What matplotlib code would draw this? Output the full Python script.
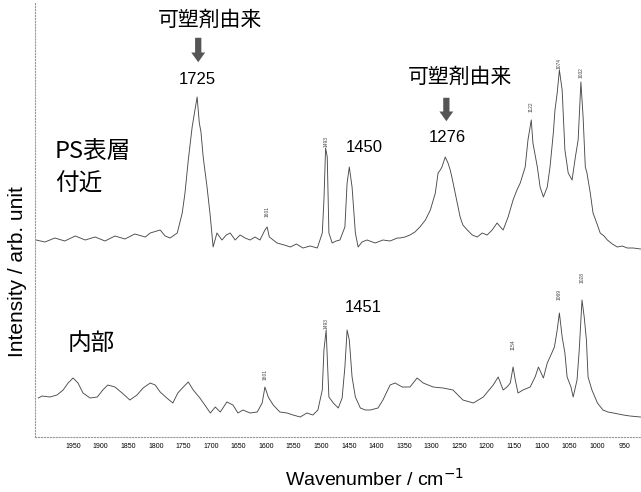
import matplotlib
matplotlib.use("Agg")
import matplotlib.pyplot as plt
import numpy as np

# upper spectrum: near the PS surface
upper_wn = [2017, 2001, 1983, 1965, 1946, 1928, 1910, 1892, 1874, 1856, 1838, 1819, 1810,
            1792, 1783, 1774, 1761, 1752, 1747, 1741, 1734, 1729, 1725, 1721, 1718, 1714,
            1707, 1701, 1696, 1689, 1680, 1672, 1665, 1656, 1647, 1638, 1629, 1620, 1611,
            1602, 1598, 1594, 1580, 1567, 1556, 1545, 1533, 1520, 1507, 1498, 1495, 1492,
            1489, 1486, 1480, 1473, 1466, 1457, 1453, 1449, 1444, 1438, 1433, 1426, 1417,
            1402, 1388, 1375, 1362, 1357, 1348, 1339, 1330, 1321, 1311, 1302, 1293, 1288,
            1284, 1281, 1275, 1270, 1266, 1263, 1257, 1248, 1243, 1235, 1226, 1217, 1208,
            1199, 1190, 1181, 1175, 1170, 1161, 1152, 1145, 1139, 1130, 1125, 1119, 1116,
            1108, 1103, 1097, 1090, 1085, 1079, 1076, 1072, 1068, 1063, 1058, 1052, 1045,
            1039, 1034, 1029, 1025, 1021, 1018, 1012, 1007, 999, 994, 987, 981, 972, 963,
            954, 945, 934, 921]
upper_int = [197, 195, 199, 196, 201, 197, 200, 196, 201, 198, 203, 200, 204,
             207, 201, 199, 204, 224, 244, 277, 310, 327, 340, 314, 305, 280,
             250, 220, 190, 204, 197, 202, 204, 197, 202, 199, 197, 200, 197,
             207, 210, 200, 194, 192, 190, 193, 189, 191, 189, 204, 237, 289,
             280, 204, 194, 196, 197, 210, 254, 270, 250, 204, 190, 195, 197,
             194, 197, 196, 199, 199, 200, 202, 205, 210, 217, 227, 244, 264,
             267, 270, 280, 274, 267, 260, 244, 220, 212, 207, 202, 200, 204,
             202, 207, 214, 210, 207, 220, 237, 247, 254, 270, 297, 317, 294,
             270, 250, 240, 250, 270, 304, 327, 344, 367, 347, 287, 264, 257,
             280, 297, 355, 320, 270, 264, 244, 224, 212, 204, 201, 197, 193, 190,
             191, 189, 189, 188]

# lower spectrum: interior
lower_wn = [2013, 2006, 1992, 1979, 1968, 1959, 1950, 1941, 1932, 1919, 1906, 1896, 1887,
            1874, 1861, 1847, 1834, 1823, 1810, 1801, 1792, 1780, 1769, 1760, 1750, 1741,
            1732, 1720, 1711, 1701, 1692, 1683, 1671, 1660, 1651, 1642, 1629, 1616, 1607,
            1602, 1596, 1587, 1575, 1562, 1551, 1538, 1526, 1515, 1506, 1498, 1495, 1491,
            1489, 1486, 1478, 1469, 1462, 1457, 1453, 1449, 1444, 1438, 1429, 1420, 1411,
            1397, 1388, 1375, 1366, 1353, 1339, 1326, 1315, 1297, 1279, 1261, 1243, 1224,
            1206, 1188, 1179, 1170, 1163, 1157, 1152, 1148, 1143, 1134, 1121, 1112, 1106,
            1097, 1090, 1085, 1077, 1072, 1068, 1063, 1058, 1054, 1047, 1043, 1036, 1032,
            1027, 1023, 1019, 1016, 1009, 999, 989, 980, 970, 961, 952, 940, 921]
lower_int = [39, 41, 40, 42, 47, 54, 59, 54, 44, 39, 40, 47, 52,
             50, 44, 37, 42, 49, 54, 52, 45, 39, 34, 44, 50, 55,
             47, 39, 32, 24, 30, 25, 35, 32, 24, 27, 24, 25, 34,
             50, 40, 32, 25, 24, 22, 20, 24, 22, 27, 47, 87, 107,
             80, 40, 34, 29, 39, 70, 107, 97, 60, 40, 29, 27, 27,
             29, 37, 52, 54, 50, 50, 59, 54, 50, 49, 47, 37, 34,
             40, 52, 60, 47, 50, 54, 70, 57, 44, 47, 50, 60, 70,
             59, 74, 80, 90, 107, 124, 100, 84, 60, 50, 40, 57, 87,
             137, 120, 97, 60, 47, 34, 27, 25, 24, 23, 22, 21, 20]

ticks = list(range(1950, 949, -50))

# small rotated peak labels (wavenumber, text base)
upper_peaks = ["1601", "1493", "1122", "1074", "1032"]
upper_peak_wn = [1598, 1491, 1119, 1068, 1029]
upper_peak_base = [220, 290, 325, 368, 359]
lower_peaks = ["1601", "1493", "1154", "1069", "1028"]
lower_peak_wn = [1602, 1491, 1152, 1068, 1027]
lower_peak_base = [57, 108, 87, 137, 154]

fig = plt.figure(figsize=(6.41, 4.92), dpi=100)
ax = fig.add_axes([35 / 641, 55 / 492, 606 / 641, 435 / 492])

ax.plot(upper_wn, upper_int, color="#4a4a4a", lw=0.65)
ax.plot(lower_wn, lower_int, color="#4a4a4a", lw=0.65)

ax.set_xlim(2019, 920)
ax.set_ylim(0, 435)
ax.set_xticks(ticks)
ax.set_xticklabels([str(t) for t in ticks], fontsize=5, family="Liberation Sans")
ax.set_yticks([])
ax.tick_params(axis="x", length=0, pad=4)
for side in ["top", "right"]:
    ax.spines[side].set_visible(False)
for side in ["left", "bottom"]:
    ax.spines[side].set_color("#999999")
    ax.spines[side].set_linestyle(":")
    ax.spines[side].set_linewidth(0.8)

ax.set_xlabel("Wavenumber / cm$^{-1}$", fontsize=14, family="Liberation Sans")
ax.xaxis.set_label_coords(0.561, -0.072)
ax.set_ylabel("Intensity / arb. unit", fontsize=15, family="Liberation Sans")
ax.yaxis.set_label_coords(-0.013, 0.38)

for lbl, w, b in zip(upper_peaks + lower_peaks, upper_peak_wn + lower_peak_wn,
                     upper_peak_base + lower_peak_base):
    ax.text(w, b, lbl, rotation=90, fontsize=3.5, ha="center", va="bottom",
            color="#444444", family="Liberation Sans")

cjk = ["Noto Sans CJK JP", "DejaVu Sans"]
ax.text(1701, 417, "可塑剤由来", fontsize=15, family=cjk, ha="center", va="center")
ax.text(1248, 360, "可塑剤由来", fontsize=15, family=cjk, ha="center", va="center")
arrow = dict(arrowstyle="simple,head_width=1.0,head_length=0.7,tail_width=0.45",
             color="#555555", lw=0)
ax.annotate("", xy=(1723, 372), xytext=(1723, 402), arrowprops=arrow)
ax.annotate("", xy=(1273, 313), xytext=(1273, 342), arrowprops=arrow)

num = dict(fontsize=12, family="Liberation Sans", ha="center", va="center")
ax.text(1725, 358, "1725", **num)
ax.text(1422, 290, "1450", **num)
ax.text(1272, 300, "1276", **num)
ax.text(1424, 129, "1451", **num)

ax.text(1983, 285, "PS表層", fontsize=17, family=cjk, ha="left", va="center")
ax.text(1983, 253, "付近", fontsize=17, family=cjk, ha="left", va="center")
ax.text(1959, 94, "内部", fontsize=17, family=cjk, ha="left", va="center")

fig.savefig("out.png", dpi=100)
